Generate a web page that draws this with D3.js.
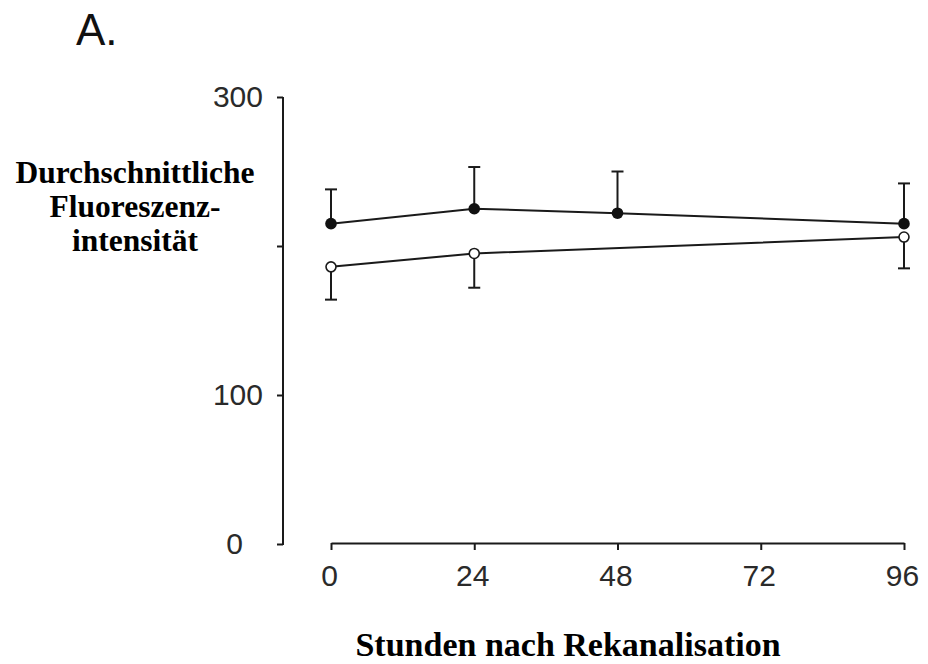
<!DOCTYPE html>
<html>
<head>
<meta charset="utf-8">
<script src="https://cdn.jsdelivr.net/npm/d3@7"></script>
<style>
  html, body { margin: 0; padding: 0; background: #fff; }
  svg { display: block; }
</style>
</head>
<body>
<svg id="chart" width="928" height="664"></svg>
<script>
// Mean fluorescence intensity over hours after recanalisation
const hoursFilled = [0, 24, 48, 96];
const meanFilled  = [215, 225, 222, 215];
const errFilled   = [23, 28, 28, 27];

const hoursOpen = [0, 24, 96];
const meanOpen  = [186, 195, 206];
const errOpen   = [22, 23, 21];

const xTicks = [0, 24, 48, 72, 96];
const yTicks = [0, 100, 200, 300];
const yTickLabels = ["0", "100", "", "300"];

const panelLabel = "A.";
const yTitle = ["Durchschnittliche", "Fluoreszenz-", "intensität"];
const xTitle = "Stunden nach Rekanalisation";

const svg = d3.select("#chart");
const ink = "#1a1a1a";

const x = d3.scaleLinear().domain([0, 96]).range([331, 904]);
const y = d3.scaleLinear().domain([0, 300]).range([544, 97]);

// Panel letter
svg.append("text")
  .attr("x", 76).attr("y", 45)
  .attr("font-family", "Liberation Sans, Arial, sans-serif")
  .attr("font-size", 44)
  .attr("fill", "#111")
  .text(panelLabel);

// Y axis
const yAxis = svg.append("g")
  .attr("transform", "translate(283,0)")
  .call(d3.axisLeft(y).tickValues(yTicks)
    .tickFormat((d, i) => yTickLabels[i])
    .tickSize(6).tickSizeOuter(0).tickPadding(14));
yAxis.select(".domain").attr("stroke", ink).attr("stroke-width", 2)
  .attr("d", `M0,${y(300)}V${y(0) + 1}`);
yAxis.selectAll(".tick line").attr("stroke", ink).attr("stroke-width", 2);
yAxis.selectAll(".tick text")
  .attr("font-family", "Liberation Sans, Arial, sans-serif")
  .attr("font-size", 30)
  .attr("fill", "#2a2a2a")
  .attr("dx", d => d === 0 ? -20 : 0);

// X axis
const xAxis = svg.append("g")
  .attr("transform", "translate(0,543)")
  .call(d3.axisBottom(x).tickValues(xTicks)
    .tickFormat(d3.format("d"))
    .tickSize(7).tickSizeOuter(0));
xAxis.select(".domain").attr("stroke", ink).attr("stroke-width", 2);
xAxis.selectAll(".tick line").attr("stroke", ink).attr("stroke-width", 2);
xAxis.selectAll(".tick text")
  .attr("font-family", "Liberation Sans, Arial, sans-serif")
  .attr("font-size", 30)
  .attr("fill", "#2a2a2a")
  .attr("y", 43).attr("dy", 0)
  .attr("dx", -2);

// Axis titles
const yt = svg.append("text")
  .attr("font-family", "Liberation Serif, Times New Roman, serif")
  .attr("font-weight", "bold")
  .attr("font-size", 31.5)
  .attr("fill", "#000")
  .attr("text-anchor", "middle");
yTitle.forEach((line, i) => {
  yt.append("tspan").attr("x", 135).attr("y", 183 + i * 34).text(line);
});

svg.append("text")
  .attr("x", 568).attr("y", 656)
  .attr("font-family", "Liberation Serif, Times New Roman, serif")
  .attr("font-weight", "bold")
  .attr("font-size", 34)
  .attr("fill", "#000")
  .attr("text-anchor", "middle")
  .text(xTitle);

const filled = hoursFilled.map((h, i) => ({ h, v: meanFilled[i], e: errFilled[i] }));
const open = hoursOpen.map((h, i) => ({ h, v: meanOpen[i], e: errOpen[i] }));

const line = d3.line().x(d => x(d.h)).y(d => y(d.v));

// Connecting lines
[filled, open].forEach(series => {
  svg.append("path")
    .datum(series)
    .attr("d", line)
    .attr("fill", "none")
    .attr("stroke", ink)
    .attr("stroke-width", 2);
});

// Error bars: filled series upward, open series downward
function errorBars(series, dir) {
  const g = svg.append("g").attr("stroke", ink).attr("stroke-width", 2);
  g.selectAll("line.stem").data(series).join("line")
    .attr("class", "stem")
    .attr("x1", d => x(d.h)).attr("x2", d => x(d.h))
    .attr("y1", d => y(d.v)).attr("y2", d => y(d.v + dir * d.e));
  g.selectAll("line.cap").data(series).join("line")
    .attr("class", "cap")
    .attr("x1", d => x(d.h) - 6).attr("x2", d => x(d.h) + 6)
    .attr("y1", d => y(d.v + dir * d.e)).attr("y2", d => y(d.v + dir * d.e));
}
errorBars(filled, 1);
errorBars(open, -1);

// Markers
svg.append("g").selectAll("circle").data(filled).join("circle")
  .attr("cx", d => x(d.h)).attr("cy", d => y(d.v))
  .attr("r", 5.8).attr("fill", "#111");

svg.append("g").selectAll("circle").data(open).join("circle")
  .attr("cx", d => x(d.h)).attr("cy", d => y(d.v))
  .attr("r", 5).attr("fill", "#fff")
  .attr("stroke", ink).attr("stroke-width", 1.6);
</script>
</body>
</html>
